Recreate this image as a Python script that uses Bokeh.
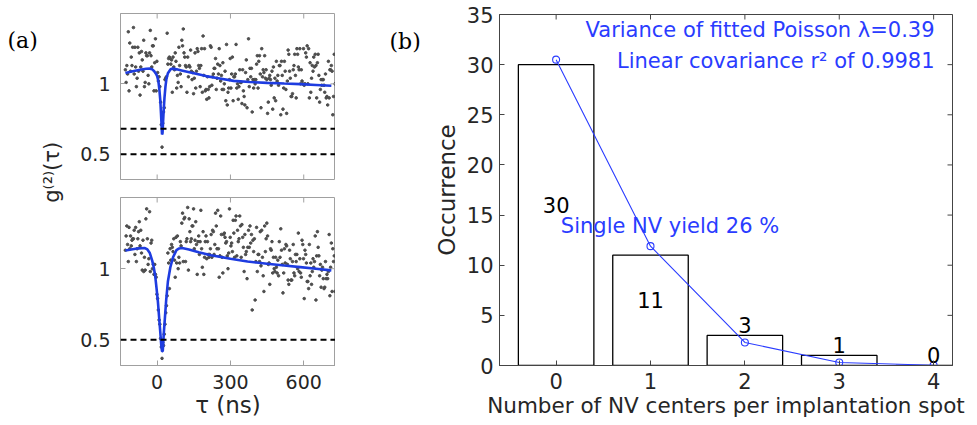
import numpy as np
from bokeh.plotting import figure
from bokeh.layouts import row, column
from bokeh.models import Label, Span, Range1d, FixedTicker
from bokeh.core.properties import value
from bokeh.embed import file_html
from bokeh.resources import INLINE

FONT = "DejaVu Sans"
SERIF = "DejaVu Serif"
TXT = "#262626"
BLUE = "#2a3cff"
FITBLUE = "#1e3ce0"

# ---------------- data: panel (a) ----------------
tau_bins = list(range(-130, 730, 3))  # ns, measurement time bins

# g2 values x100, top NV spot
top_g2_pct = [
    110, 101, 113, 107, 137, 95, 129, 109, 119, 113,
    126, 140, 107, 126, 112, 98, 104, 126, 109, 122,
    92, 112, 123, 117, 109, 131, 98, 101, 122, 120,
    120, 106, 100, 122, 138, 120, 112,
    127, 127, 95, 115, 132, 95,
    116, 108, 102, 105, 98, 87, 71, 55, 72, 80, 83, 103, 104, 105,
    136, 114, 118, 119, 118, 114, 117,
    94, 119, 112, 110, 122, 116, 97, 106, 101, 126, 113, 107, 98,
    131, 127, 139, 122, 119, 113, 112, 94, 119, 105, 113, 112, 124, 109, 103, 108, 93,
    104, 122, 97, 109, 125, 123, 113, 111, 98, 113, 125, 94, 134, 106, 125, 95,
    96, 89, 105, 96, 90, 98, 127, 126, 99, 105, 107, 111, 111, 118, 96, 104, 114,
    107, 125, 113, 102, 106, 96, 115, 96, 100, 109, 88, 128, 85, 94, 97, 103, 118, 97, 107, 119,
    88, 105, 105, 107,
    128, 97, 100, 89, 98, 110, 101, 101, 86, 110, 95, 91, 85, 108, 117, 83, 103, 132, 98, 111,
    105, 111, 80, 103, 97, 103, 100, 103, 114, 120, 97, 116, 120, 107, 83, 125, 105, 110, 108, 120,
    104, 110, 103,
    79, 87, 104, 106, 103, 99, 109, 82, 112, 90, 104, 88, 116, 102, 106, 99, 113, 113, 78, 116,
    106, 82, 97, 116, 109, 96, 79, 102, 124, 121, 109, 104, 91, 91, 93, 110, 113, 121, 106, 90,
    125, 121, 112, 110, 125, 100, 110, 102, 100, 125,
    99, 100, 122, 119, 127, 100, 125, 90, 115, 94, 104, 113, 109, 119, 112, 121, 113, 90, 115, 121,
    106, 87, 96, 103, 99, 103, 103, 99, 94, 107, 90, 91, 85, 116, 90, 110, 110, 113, 109, 78,
    91, 121, 100,
]

# g2 values x100, bottom NV spot
bot_g2_pct = [
    113, 123, 130, 117, 105, 129, 114, 123, 116, 120, 121, 121, 127, 110, 129, 105, 114, 121, 126, 133,
    116, 127, 111, 99, 120, 98, 108, 99, 135, 142, 121,
    103, 107, 140, 98, 118, 120,
    100, 103, 96, 103, 96, 94, 82, 79, 71, 64, 61, 51, 45, 37, 48, 46, 54, 61, 69, 74,
    81, 111, 104, 86, 114, 106, 117, 115, 112, 121,
    106, 94, 122, 104, 123, 100, 108, 104, 119, 116,
    132, 139, 105, 135, 136, 105,
    119, 121, 143, 99, 135, 126, 119, 121, 130, 130,
    142, 114, 120, 133, 117, 96, 119, 123, 110, 119,
    141, 114, 101, 126, 96, 108, 119, 123, 107, 119,
    110, 108, 110, 114, 124, 108, 127, 126, 110, 117,
    139, 130, 114, 141,
    114, 94, 109, 137, 124, 108,
    97, 124, 125, 122, 118, 119, 109, 100, 111, 142,
    122, 116, 118, 112, 134, 125, 108, 134, 137, 109,
    127, 119, 121, 137, 130, 108, 131, 122,
    115, 98,
    124, 110, 112, 93, 115, 127, 115, 130, 118, 124,
    71, 120, 112, 121, 78, 105, 129, 98, 110, 110,
    105, 126, 102, 127, 108, 95, 84, 130, 112, 121,
    132,
    123, 103, 104, 89, 114, 113, 119, 97, 108,
    100, 98, 108, 101, 97, 106, 95, 119, 108, 128,
    113, 103, 83, 97, 114, 104, 117, 116, 103, 92,
    89, 113, 107, 92,
    92, 105, 117, 97, 95, 110,
    105, 110, 100, 125, 98, 107, 97, 94, 120, 117,
    107, 79, 113, 110, 104, 91, 91, 86, 117, 95,
    104, 89, 98, 107, 101, 105, 123,
    78, 109, 126,
    115, 109, 95, 103, 87, 99, 101, 93, 86, 87,
    105, 93, 96, 93, 98, 124, 81, 101, 118, 84,
    114, 105, 109, 84,
]

# fitted g2 curves
top_fit_tau = [-130, -100, -70, -45, -30, -20, -12, -5, 0, 5, 9, 13, 16, 18, 20, 22, 24, 27, 30, 34, 38,
               44, 55, 61, 80, 100, 150, 200, 250, 313, 380, 450, 520, 586, 650, 713]
top_fit_g2 = [1.077, 1.090, 1.100, 1.107, 1.108, 1.103, 1.090, 1.072, 1.055, 1.02, 0.96, 0.88, 0.78, 0.71,
              0.64, 0.65, 0.72, 0.82, 0.90, 0.98, 1.035, 1.075, 1.104, 1.108, 1.103, 1.095, 1.075, 1.055,
              1.040, 1.021, 1.013, 1.007, 1.002, 0.998, 0.992, 0.986]

bot_fit_tau = [-130, -100, -75, -50, -40, -30, -20, -14, -8, -3, 3, 8, 13, 17, 20, 23, 27, 32, 37, 44, 54,
               65, 79, 90, 102, 130, 170, 220, 300, 370, 450, 520, 586, 650, 713]
bot_fit_g2 = [1.128, 1.137, 1.143, 1.145, 1.135, 1.11, 1.055, 1.01, 0.95, 0.87, 0.77, 0.66, 0.55, 0.46,
              0.42, 0.42, 0.54, 0.66, 0.78, 0.91, 1.01, 1.08, 1.13, 1.142, 1.145, 1.135, 1.115, 1.095,
              1.070, 1.050, 1.035, 1.022, 1.011, 1.000, 0.988]

top_thresholds = [0.68, 0.5]
bot_thresholds = [0.5]
a_xticks = [0, 300, 600]
a_yticks = [0.5, 1]

# ---------------- data: panel (b) ----------------
nv_number = [0, 1, 2, 3, 4]
occurrence = [30, 11, 3, 1, 0]
poisson_fit = [30.5, 11.9, 2.3, 0.3, 0.03]
b_yticks = [0, 5, 10, 15, 20, 25, 30, 35]


def style_axes(p, frame_color, tick_size):
    p.grid.visible = False
    p.outline_line_color = frame_color
    p.outline_line_width = 1
    for ax in p.axis:
        ax.axis_line_color = frame_color
        ax.major_tick_line_color = frame_color
        ax.major_tick_in = 5
        ax.major_tick_out = 0
        ax.minor_tick_line_color = None
        ax.major_label_text_font = FONT
        ax.major_label_text_font_size = tick_size
        ax.major_label_text_color = TXT
        ax.axis_label_text_font = FONT
        ax.axis_label_text_font_style = "normal"
        ax.axis_label_text_color = TXT


def edge_ticks(p, xticks, yticks, color, bottom=False):
    """inward tick marks on the box edges without labels"""
    x1 = p.x_range.end
    y0, y1 = p.y_range.start, p.y_range.end
    ys = [y1] + ([y0] if bottom else [])
    for yy in ys:
        p.scatter(xticks, [yy] * len(xticks), marker="dash", angle=np.pi / 2, size=10,
                  line_color=color, line_width=1)
    p.scatter([x1] * len(yticks), yticks, marker="dash", size=10, line_color=color, line_width=1)


# ---- label column for (a)
lab_a = figure(width=70, height=425, x_range=(0, 70), y_range=(0, 425), min_border=0,
               toolbar_location=None, output_backend="svg")
lab_a.axis.visible = False
lab_a.grid.visible = False
lab_a.outline_line_color = None
lab_a.add_layout(Label(x=7, y=393, text="(a)", text_font=SERIF, text_font_size="22px",
                       text_baseline="middle", text_color="black"))
lab_a.add_layout(Label(x=51, y=234, text="g⁽²⁾(τ)", angle=np.pi / 2, text_align="center",
                       text_baseline="middle", text_font=FONT, text_font_size="21px", text_color=TXT))


def g2_panel(g2_pct, fit_tau, fit_g2, thresholds, top_b, bottom_b, fh, show_x):
    p = figure(frame_width=215, frame_height=fh, x_range=Range1d(-150, 730), y_range=Range1d(0.32, 1.5),
               min_border_left=50, min_border_right=0, min_border_top=top_b, min_border_bottom=bottom_b,
               toolbar_location=None, output_backend="svg")
    g2 = [v / 100 for v in g2_pct]
    p.scatter(tau_bins[:len(g2)], g2, size=2.6, color="#4d4d4d", marker="circle")
    for t in thresholds:
        p.add_layout(Span(location=t, dimension="width", line_color="black", line_width=2, line_dash="6 4"))
    p.line(fit_tau, fit_g2, line_color=FITBLUE, line_width=2.6)
    style_axes(p, "#a0a0a0", "19px")
    edge_ticks(p, a_xticks, a_yticks, "#a0a0a0", bottom=not show_x)
    p.xaxis.ticker = FixedTicker(ticks=a_xticks)
    p.yaxis.ticker = FixedTicker(ticks=a_yticks)
    p.yaxis.major_label_overrides = {1: "1", 0.5: "0.5"}
    p.yaxis.major_label_standoff = 10
    if show_x:
        p.xaxis.major_label_standoff = 9
        p.xaxis.axis_label = "τ (ns)"
        p.xaxis.axis_label_text_font_size = "23px"
        p.xaxis.axis_label_standoff = 0
    else:
        p.xaxis.visible = False
    return p


ta = g2_panel(top_g2_pct, top_fit_tau, top_fit_g2, top_thresholds, 13, 18, 166, False)
tb = g2_panel(bot_g2_pct, bot_fit_tau, bot_fit_g2, bot_thresholds, 0, 60, 168, True)

# ---- label column for (b)
lab_b = figure(width=95, height=425, x_range=(0, 95), y_range=(0, 425), min_border=0,
               toolbar_location=None, output_backend="svg")
lab_b.axis.visible = False
lab_b.grid.visible = False
lab_b.outline_line_color = None
lab_b.add_layout(Label(x=54, y=392, text="(b)", text_font=SERIF, text_font_size="22px",
                       text_baseline="middle", text_color="black"))

pb = figure(frame_width=453, frame_height=351, x_range=Range1d(-0.6, 4.2), y_range=Range1d(0, 35),
            min_border_left=69, min_border_right=25, min_border_top=14, min_border_bottom=60,
            toolbar_location=None, output_backend="svg")
pb.vbar(x=nv_number, top=occurrence, width=0.8, fill_color="white", line_color="black", line_width=1.3)
pb.line(nv_number, poisson_fit, line_color=BLUE, line_width=1.1)
pb.scatter(nv_number, poisson_fit, marker="circle", size=7, fill_color=None, line_color=BLUE, line_width=1.1)

label_y = [c / 2 + 1 if c > 5 else c + 1 for c in occurrence]
pb.text(x=nv_number, y=label_y, text=[str(c) for c in occurrence], text_align="center",
        text_baseline="middle", text_font=value(FONT), text_font_size="21px", text_color="black")

pb.add_layout(Label(x=4.01, y=32.3, text="Variance of fitted Poisson λ=0.39", text_align="right",
                    text_font=FONT, text_font_size="21px", text_color=BLUE))
pb.add_layout(Label(x=4.01, y=29.2, text="Linear covariance r² of 0.9981", text_align="right",
                    text_font=FONT, text_font_size="21px", text_color=BLUE))
pb.add_layout(Label(x=0.05, y=12.7, text="Single NV yield 26 %", text_align="left",
                    text_font=FONT, text_font_size="21px", text_color=BLUE))

style_axes(pb, "#444444", "21px")
edge_ticks(pb, nv_number, b_yticks, "#444444")
pb.xaxis.ticker = FixedTicker(ticks=nv_number)
pb.yaxis.ticker = FixedTicker(ticks=b_yticks)
pb.xaxis.major_label_standoff = 7
pb.xaxis.axis_label = "Number of NV centers per implantation spot"
pb.xaxis.axis_label_text_font_size = "21.5px"
pb.xaxis.axis_label_standoff = 1
pb.yaxis.major_label_standoff = 6
pb.yaxis.axis_label = "Occurrence"
pb.yaxis.axis_label_text_font_size = "23px"
pb.yaxis.axis_label_standoff = 4

layout = row(lab_a, column(ta, tb), lab_b, pb)
open("out.html", "w").write(file_html(layout, INLINE))
